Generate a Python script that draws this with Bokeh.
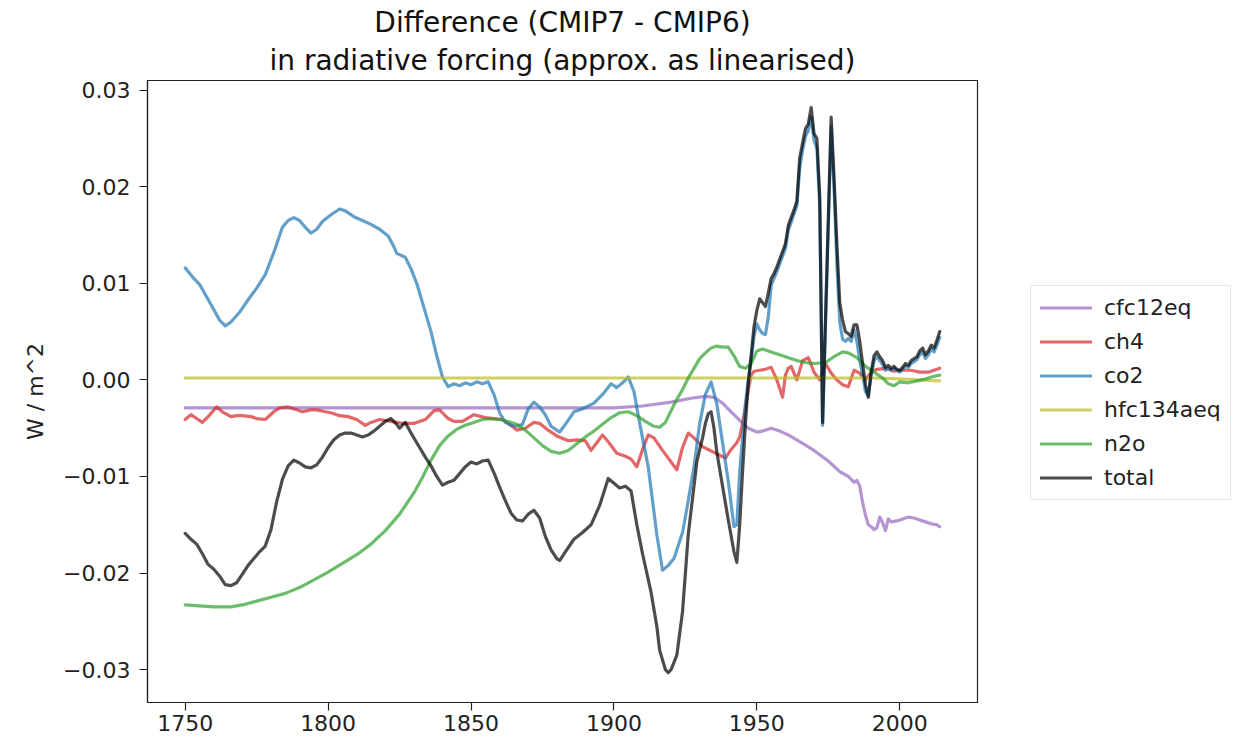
from bokeh.plotting import figure
from bokeh.models import (Range1d, FixedTicker, CustomJSTickFormatter, Legend,
                          LegendItem, Title)
from bokeh.embed import file_html
from bokeh.resources import INLINE

# ---------------- data ----------------
cfc_years = [1750, 1900, 1910, 1920, 1927, 1932, 1935, 1938, 1941, 1944, 1947, 1950,
             1952, 1955, 1958, 1961, 1965, 1970, 1975, 1979, 1982, 1984, 1985, 1986,
             1987, 1988, 1989, 1990, 1991, 1992, 1993, 1994, 1995, 1996, 1997, 1999,
             2001, 2003, 2005, 2007, 2009, 2011, 2013, 2014]
cfc_vals = [-0.0029, -0.0029, -0.0027, -0.0023, -0.0019, -0.0017, -0.0018, -0.0024,
            -0.0033, -0.0042, -0.0050, -0.0054, -0.0053, -0.0050, -0.0053, -0.0057,
            -0.0064, -0.0073, -0.0084, -0.0095, -0.0100, -0.0106, -0.0104, -0.0110,
            -0.0127, -0.0140, -0.0150, -0.0152, -0.0155, -0.0153, -0.0142, -0.0148,
            -0.0156, -0.0144, -0.0147, -0.0146, -0.0144, -0.0142, -0.0143, -0.0145,
            -0.0147, -0.0149, -0.0150, -0.0152]

ch4_years = [1750, 1752, 1754, 1756, 1758, 1761, 1763, 1766, 1768, 1770, 1773, 1775,
             1778, 1781, 1783, 1786, 1789, 1791, 1794, 1796, 1799, 1801, 1804, 1807,
             1810, 1813, 1815, 1818, 1822, 1826, 1830, 1834, 1837, 1839, 1842, 1844,
             1847, 1851, 1855, 1858, 1861, 1864, 1866, 1869, 1872, 1874, 1877, 1880,
             1884, 1887, 1890, 1892, 1894, 1896, 1898, 1901, 1904, 1906, 1908, 1910,
             1912, 1914, 1917, 1920, 1922, 1924, 1926, 1928, 1931, 1933, 1935, 1937,
             1939, 1941, 1943, 1944, 1945, 1946, 1947, 1948, 1949, 1951, 1953, 1955,
             1957, 1959, 1960, 1961, 1962, 1964, 1966, 1968, 1970, 1972, 1974, 1976,
             1978, 1980, 1982, 1984, 1986, 1988, 1990, 1992, 1995, 1998, 2001, 2004,
             2007, 2010, 2012, 2014]
ch4_vals = [-0.0041, -0.0036, -0.0040, -0.0044, -0.0038, -0.0028, -0.0033, -0.0038,
            -0.0037, -0.0037, -0.0038, -0.0040, -0.0041, -0.0033, -0.0029, -0.0028,
            -0.0031, -0.0033, -0.0031, -0.0031, -0.0033, -0.0034, -0.0037, -0.0038,
            -0.0041, -0.0047, -0.0044, -0.0041, -0.0043, -0.0045, -0.0045, -0.0041,
            -0.0032, -0.0031, -0.0040, -0.0043, -0.0043, -0.0036, -0.0039, -0.0040,
            -0.0041, -0.0047, -0.0052, -0.0050, -0.0044, -0.0045, -0.0052, -0.0058,
            -0.0063, -0.0062, -0.0063, -0.0073, -0.0065, -0.0057, -0.0064, -0.0076,
            -0.0079, -0.0082, -0.0090, -0.0072, -0.0057, -0.0060, -0.0073, -0.0085,
            -0.0093, -0.0070, -0.0055, -0.0060, -0.0069, -0.0072, -0.0075, -0.0078,
            -0.0081, -0.0072, -0.0065, -0.0059, -0.0045, -0.0028, -0.0010, 0.0005,
            0.0009, 0.0010, 0.0011, 0.0013, 0.0000, -0.0018, 0.0005, 0.0012, 0.0014,
            0.0000, 0.0020, 0.0023, 0.0008, 0.0000, 0.0017, 0.0007, 0.0000, -0.0005,
            -0.0007, 0.0010, 0.0007, 0.0000, 0.0008, 0.0011, 0.0012, 0.0009, 0.0010,
            0.0010, 0.0008, 0.0008, 0.0010, 0.0012]

co2_years = [1750, 1753, 1755, 1759, 1762, 1764, 1766, 1769, 1772, 1775, 1778, 1781,
             1784, 1786, 1788, 1790, 1792, 1794, 1796, 1798, 1801, 1804, 1806, 1809,
             1812, 1815, 1818, 1821, 1823, 1824, 1827, 1829, 1831, 1833, 1836, 1838,
             1840, 1842, 1844, 1846, 1848, 1850, 1852, 1854, 1856, 1858, 1860, 1862,
             1864, 1866, 1868, 1870, 1872, 1874, 1876, 1878, 1881, 1883, 1886, 1889,
             1893, 1896, 1899, 1901, 1903, 1905, 1907, 1909, 1912, 1915, 1917, 1919,
             1921, 1924, 1926, 1928, 1930, 1932, 1934, 1936, 1938, 1940, 1942, 1943,
             1944, 1945, 1946, 1947, 1948, 1949, 1950, 1951, 1952, 1953, 1954, 1955,
             1956, 1957, 1958, 1959, 1960, 1961, 1962, 1963, 1964, 1965, 1966, 1967,
             1968, 1969, 1970, 1971, 1972, 1973, 1976, 1977, 1978, 1979, 1980, 1981,
             1982, 1983, 1984, 1985, 1986, 1987, 1988, 1989, 1990, 1991, 1992, 1993,
             1994, 1995, 1996, 1997, 1998, 1999, 2000, 2001, 2002, 2003, 2004, 2005,
             2006, 2007, 2008, 2009, 2010, 2011, 2012, 2013, 2014]
co2_vals = [0.0116, 0.0105, 0.0099, 0.0078, 0.0062, 0.0056, 0.0060, 0.0070, 0.0083,
            0.0095, 0.0109, 0.0132, 0.0158, 0.0165, 0.0168, 0.0165, 0.0158, 0.0152,
            0.0156, 0.0164, 0.0171, 0.0177, 0.0175, 0.0169, 0.0165, 0.0161, 0.0156,
            0.0149, 0.0138, 0.0131, 0.0127, 0.0115, 0.0100, 0.0080, 0.0050, 0.0025,
            0.0003, -0.0007, -0.0004, -0.0006, -0.0003, -0.0005, -0.0002, -0.0004,
            -0.0002, -0.0015, -0.0034, -0.0044, -0.0047, -0.0048, -0.0046, -0.0030,
            -0.0023, -0.0028, -0.0036, -0.0048, -0.0054, -0.0046, -0.0033, -0.0030,
            -0.0024, -0.0015, -0.0004, -0.0008, -0.0003, 0.0003, -0.0012, -0.0045,
            -0.0090, -0.0160, -0.0197, -0.0192, -0.0185, -0.0158, -0.0125, -0.0090,
            -0.0045, -0.0015, -0.0002, -0.0025, -0.0065, -0.0105, -0.0152, -0.0150,
            -0.0095, -0.0060, -0.0025, 0.0000, 0.0020, 0.0045, 0.0058, 0.0052, 0.0048,
            0.0047, 0.0065, 0.0098, 0.0105, 0.0112, 0.0120, 0.0128, 0.0136, 0.0155,
            0.0163, 0.0172, 0.0180, 0.0220, 0.0238, 0.0252, 0.0258, 0.0272, 0.0248,
            0.0240, 0.0180, -0.0047, 0.0262, 0.0200, 0.0120, 0.0060, 0.0042, 0.0040,
            0.0043, 0.0040, 0.0052, 0.0040, 0.0020, 0.0005, -0.0012, -0.0016, 0.0005,
            0.0020, 0.0024, 0.0020, 0.0016, 0.0010, 0.0012, 0.0010, 0.0012, 0.0010,
            0.0008, 0.0011, 0.0014, 0.0013, 0.0017, 0.0019, 0.0021, 0.0026, 0.0029,
            0.0022, 0.0026, 0.0032, 0.0029, 0.0036, 0.0044]

hfc_years = [1750, 1990, 2000, 2014]
hfc_vals = [0.0002, 0.0002, 0.0001, -0.0001]

n2o_years = [1750, 1755, 1760, 1766, 1770, 1775, 1780, 1785, 1790, 1795, 1800, 1805,
             1810, 1815, 1820, 1825, 1830, 1833, 1836, 1839, 1842, 1845, 1848, 1851,
             1854, 1857, 1860, 1863, 1866, 1869, 1872, 1875, 1878, 1881, 1884, 1887,
             1890, 1893, 1896, 1899, 1902, 1905, 1908, 1911, 1914, 1916, 1918, 1920,
             1922, 1924, 1926, 1928, 1930, 1932, 1934, 1936, 1938, 1940, 1942, 1944,
             1946, 1948, 1950, 1952, 1955, 1958, 1961, 1964, 1967, 1970, 1974, 1977,
             1980, 1982, 1985, 1988, 1991, 1994, 1996, 1998, 2000, 2003, 2006, 2009,
             2011, 2014]
n2o_vals = [-0.0233, -0.0234, -0.0235, -0.0235, -0.0233, -0.0229, -0.0225, -0.0221,
            -0.0215, -0.0207, -0.0199, -0.0190, -0.0181, -0.0170, -0.0156, -0.0139,
            -0.0117, -0.0101, -0.0083, -0.0068, -0.0058, -0.0051, -0.0047, -0.0044,
            -0.0041, -0.0040, -0.0041, -0.0043, -0.0046, -0.0052, -0.0060, -0.0068,
            -0.0074, -0.0076, -0.0073, -0.0066, -0.0059, -0.0053, -0.0046, -0.0039,
            -0.0034, -0.0033, -0.0037, -0.0043, -0.0048, -0.0049, -0.0044, -0.0032,
            -0.0020, -0.0010, 0.0002, 0.0012, 0.0022, 0.0028, 0.0033, 0.0035, 0.0034,
            0.0034, 0.0025, 0.0014, 0.0012, 0.0017, 0.0030, 0.0032, 0.0029, 0.0026,
            0.0023, 0.0020, 0.0018, 0.0017, 0.0018, 0.0024, 0.0029, 0.0028, 0.0023,
            0.0014, 0.0008, 0.0002, -0.0004, -0.0006, -0.0002, -0.0003, -0.0001,
            0.0001, 0.0003, 0.0005]

total_years = [1750, 1752, 1754, 1756, 1758, 1760, 1762, 1764, 1766, 1768, 1770, 1772,
               1774, 1776, 1778, 1780, 1782, 1784, 1786, 1788, 1790, 1792, 1794, 1796,
               1798, 1800, 1802, 1804, 1806, 1808, 1810, 1812, 1814, 1816, 1818, 1820,
               1822, 1824, 1825, 1827, 1829, 1832, 1834, 1836, 1838, 1840, 1842, 1844,
               1846, 1848, 1850, 1852, 1854, 1856, 1858, 1860, 1862, 1864, 1866, 1868,
               1870, 1872, 1874, 1876, 1878, 1880, 1881, 1883, 1886, 1889, 1892, 1895,
               1898, 1900, 1902, 1904, 1906, 1908, 1910, 1913, 1915, 1916, 1918, 1919,
               1920, 1922, 1924, 1925, 1926, 1927, 1928, 1929, 1930, 1931, 1932, 1933,
               1934, 1935, 1936, 1938, 1940, 1942, 1943, 1944, 1945, 1946, 1947, 1948,
               1949, 1950, 1951, 1952, 1953, 1954, 1955, 1956, 1957, 1958, 1959, 1960,
               1961, 1962, 1963, 1964, 1965, 1966, 1967, 1968, 1969, 1970, 1971, 1972,
               1973, 1976, 1977, 1978, 1979, 1980, 1981, 1982, 1983, 1984, 1985, 1986,
               1987, 1988, 1989, 1990, 1991, 1992, 1993, 1994, 1995, 1996, 1997, 1998,
               1999, 2000, 2001, 2002, 2003, 2004, 2005, 2006, 2007, 2008, 2009, 2010,
               2011, 2012, 2013, 2014]
total_vals = [-0.0159, -0.0165, -0.0170, -0.0180, -0.0191, -0.0196, -0.0203, -0.0212,
              -0.0213, -0.0210, -0.0201, -0.0192, -0.0185, -0.0178, -0.0172, -0.0155,
              -0.0126, -0.0103, -0.0089, -0.0083, -0.0086, -0.0090, -0.0091, -0.0088,
              -0.0080, -0.0070, -0.0062, -0.0057, -0.0055, -0.0055, -0.0057, -0.0059,
              -0.0057, -0.0053, -0.0048, -0.0043, -0.0040, -0.0046, -0.0050, -0.0044,
              -0.0055, -0.0070, -0.0080, -0.0089, -0.0100, -0.0109, -0.0106, -0.0104,
              -0.0097, -0.0090, -0.0085, -0.0087, -0.0084, -0.0083, -0.0096, -0.0111,
              -0.0125, -0.0138, -0.0145, -0.0146, -0.0139, -0.0135, -0.0143, -0.0162,
              -0.0176, -0.0185, -0.0187, -0.0178, -0.0165, -0.0158, -0.0150, -0.0130,
              -0.0102, -0.0107, -0.0112, -0.0110, -0.0115, -0.0150, -0.0180, -0.0220,
              -0.0255, -0.0280, -0.0300, -0.0303, -0.0300, -0.0285, -0.0240, -0.0200,
              -0.0160, -0.0135, -0.0110, -0.0085, -0.0072, -0.0060, -0.0045, -0.0035,
              -0.0033, -0.0050, -0.0075, -0.0110, -0.0145, -0.0178, -0.0189, -0.0150,
              -0.0095, -0.0045, -0.0003, 0.0025, 0.0055, 0.0072, 0.0084, 0.0080, 0.0076,
              0.0090, 0.0105, 0.0110, 0.0117, 0.0125, 0.0133, 0.0141, 0.0160, 0.0168,
              0.0176, 0.0185, 0.0230, 0.0245, 0.0260, 0.0265, 0.0282, 0.0255, 0.0250,
              0.0190, -0.0044, 0.0272, 0.0210, 0.0140, 0.0080, 0.0062, 0.0050, 0.0048,
              0.0045, 0.0057, 0.0057, 0.0040, 0.0017, -0.0005, -0.0018, 0.0008, 0.0025,
              0.0029, 0.0024, 0.0020, 0.0013, 0.0015, 0.0012, 0.0014, 0.0011, 0.0010,
              0.0013, 0.0017, 0.0015, 0.0020, 0.0022, 0.0024, 0.0030, 0.0033, 0.0026,
              0.0030, 0.0036, 0.0033, 0.0041, 0.0050]

labels = ["cfc12eq", "ch4", "co2", "hfc134aeq", "n2o", "total"]
colors = ["#9467bd", "#d62728", "#1f77b4", "#bcbd22", "#2ca02c", "#000000"]
x_ticks = [1750, 1800, 1850, 1900, 1950, 2000]
y_ticks = [-0.03, -0.02, -0.01, 0.0, 0.01, 0.02, 0.03]

FONT = "DejaVu Sans"

p = figure(frame_width=830, frame_height=622, output_backend="svg",
           toolbar_location=None, title=None,
           x_range=Range1d(1736.8, 2027.2), y_range=Range1d(-0.0334, 0.0310),
           min_border_left=147, min_border_right=10, min_border_top=80,
           min_border_bottom=36)

p.xgrid.visible = False
p.ygrid.visible = False
p.outline_line_color = "#222222"
p.outline_line_width = 1.2
p.background_fill_color = "white"
p.border_fill_color = "white"

for ax in (p.xaxis[0], p.yaxis[0]):
    ax.axis_line_color = "#222222"
    ax.axis_line_width = 1.2
    ax.major_tick_line_color = "#222222"
    ax.major_tick_line_width = 1.2
    ax.major_tick_out = 8
    ax.major_tick_in = 0
    ax.minor_tick_line_color = None
    ax.major_label_text_font = FONT
    ax.major_label_text_font_size = "22px"
    ax.major_label_text_color = "#222222"

p.xaxis.major_label_standoff = 4
p.yaxis.major_label_standoff = 9
p.xaxis.ticker = FixedTicker(ticks=x_ticks)
p.yaxis.ticker = FixedTicker(ticks=y_ticks)
p.yaxis.formatter = CustomJSTickFormatter(
    code="return (tick < -1e-12 ? '\u2212' : '') + Math.abs(tick).toFixed(2);")
p.yaxis.axis_label = "W / m^2"
p.yaxis.axis_label_text_font = FONT
p.yaxis.axis_label_text_font_size = "22px"
p.yaxis.axis_label_text_font_style = "normal"
p.yaxis.axis_label_text_color = "#222222"
p.yaxis.axis_label_standoff = 12

series = [(cfc_years, cfc_vals), (ch4_years, ch4_vals), (co2_years, co2_vals),
          (hfc_years, hfc_vals), (n2o_years, n2o_vals), (total_years, total_vals)]

items = []
for (xs, ys), lab, col in zip(series, labels, colors):
    r = p.line(xs, ys, line_color=col, line_width=3.2, line_alpha=0.7,
               line_join="round", line_cap="round")
    items.append(LegendItem(label=lab, renderers=[r]))

legend = Legend(items=items, location=(53, 202))
legend.label_text_font = FONT
legend.label_text_font_size = "22px"
legend.label_text_color = "#222222"
legend.glyph_width = 52
legend.glyph_height = 21
legend.label_height = 21
legend.label_standoff = 12
legend.spacing = 9
legend.padding = 9
legend.margin = 0
legend.border_line_color = "#cccccc"
legend.border_line_width = 1
legend.background_fill_alpha = 1.0
p.add_layout(legend, "right")

t2 = Title(text="in radiative forcing (approx. as linearised)", align="center",
           text_font=FONT, text_font_size="28px", text_font_style="normal",
           text_color="#111111", standoff=7)
t1 = Title(text="Difference (CMIP7 - CMIP6)", align="center",
           text_font=FONT, text_font_size="28px", text_font_style="normal",
           text_color="#111111", standoff=0)
p.add_layout(t2, "above")
p.add_layout(t1, "above")

open("out.html", "w").write(file_html(p, INLINE))
